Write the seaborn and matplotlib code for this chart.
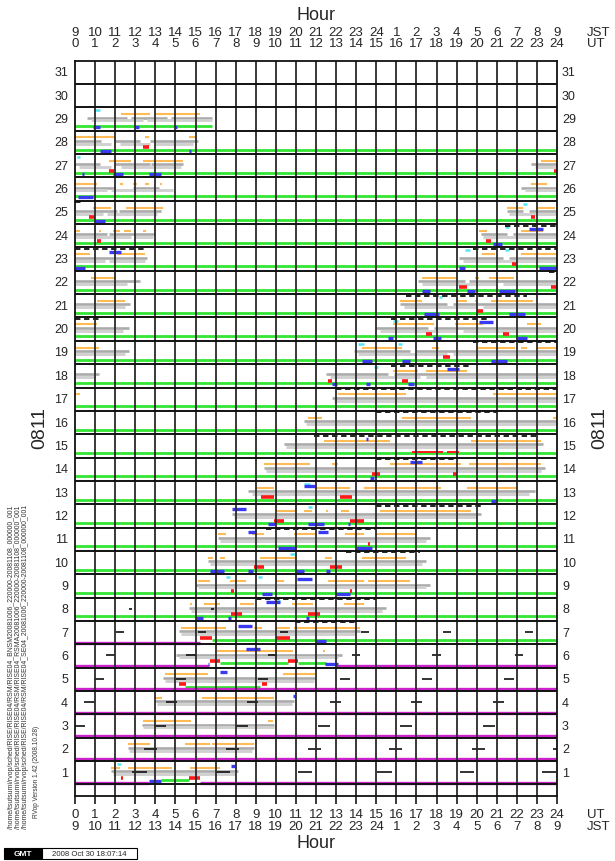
import matplotlib
matplotlib.use("Agg")
import matplotlib.pyplot as plt
from matplotlib.patches import Rectangle
import matplotlib.transforms as mtransforms
import pandas as pd
import seaborn as sns

sns.set_theme(style="white")
plt.rcParams["font.family"] = ["Liberation Sans", "DejaVu Sans"]

# ---------------------------------------------------------------- axes labels
DAYS = list(range(1, 32))
UT_HOURS = list(range(0, 25))
UT_LABELS = [str(h) for h in range(0, 25)]
JST_LABELS = ["9", "10", "11", "12", "13", "14", "15", "16", "17", "18", "19",
              "20", "21", "22", "23", "24", "1", "2", "3", "4", "5", "6", "7",
              "8", "9"]
MONTH_TAG = "0811"

# ---------------------------------------------------------------- schedule
# every entry: (day, start UT hour, end UT hour)
ORANGE = [
    (29, 2.3, 3.75), (29, 4.0, 6.2),
    (28, 0.0, 2.0), (28, 3.5, 3.7), (28, 5.7, 6.0),
    (27, 1.7, 2.8), (27, 3.4, 5.4), (27, 23.2, 24.0),
    (26, 0.0, 1.1), (26, 2.25, 2.4), (26, 2.9, 3.1), (26, 3.5, 3.7), (26, 4.25, 4.35), (26, 22.7, 23.5),
    (25, 0.9, 1.8), (25, 2.55, 4.4), (25, 21.5, 22.3), (25, 23.0, 23.9),
    (24, 0.0, 0.25), (24, 1.2, 1.3), (24, 1.9, 2.25), (24, 2.45, 2.8), (24, 3.4, 3.55),
    (24, 20.1, 20.5), (24, 22.2, 23.3),
    (23, 0.05, 0.75), (23, 2.1, 3.5), (23, 20.25, 20.9), (23, 22.2, 24.0),
    (22, 0.8, 2.0), (22, 17.3, 19.0), (22, 19.9, 20.1), (22, 20.6, 21.85),
    (21, 1.1, 2.5), (21, 16.2, 17.3), (21, 19.0, 19.5), (21, 19.9, 20.0), (21, 20.7, 22.8),
    (20, 0.0, 1.1), (20, 15.85, 17.9), (20, 18.9, 20.3), (20, 22.5, 23.2),
    (19, 0.0, 1.2), (19, 14.3, 16.3), (19, 17.8, 18.1), (19, 20.0, 21.9), (19, 22.2, 22.5), (19, 23.0, 24.0),
    (18, 15.85, 17.1), (18, 17.5, 19.5),
    (17, 0.0, 0.25), (17, 13.1, 16.5), (17, 20.8, 24.0),
    (16, 11.6, 12.3), (16, 16.3, 19.7), (16, 23.8, 24.0),
    (15, 12.4, 15.7), (15, 19.7, 23.2),
    (14, 9.4, 11.7), (14, 12.8, 13.1), (14, 15.7, 19.2), (14, 19.6, 23.2),
    (13, 9.0, 9.9), (13, 12.0, 13.7), (13, 14.4, 18.2), (13, 19.5, 22.0),
    (12, 10.0, 11.0), (12, 11.4, 11.8), (12, 12.5, 12.6), (12, 13.25, 13.65), (12, 15.2, 19.7),
    (11, 7.1, 7.5), (11, 8.8, 9.4), (11, 10.9, 12.0), (11, 13.45, 14.4), (11, 15.0, 17.0),
    (10, 6.6, 6.85), (10, 7.2, 7.45), (10, 9.2, 10.95), (10, 12.45, 12.8), (10, 14.3, 16.5),
    (9, 6.1, 6.7), (9, 7.7, 8.5), (9, 10.0, 10.4), (9, 12.6, 14.4), (9, 14.6, 16.7),
    (8, 5.75, 5.85), (8, 6.4, 7.2), (8, 8.2, 8.9), (8, 10.8, 11.85), (8, 13.4, 14.4),
    (7, 5.3, 7.5), (7, 8.9, 9.3), (7, 10.0, 10.7), (7, 10.9, 14.2),
    (6, 7.05, 10.85), (6, 12.35, 12.45),
    (5, 4.5, 6.6), (5, 10.35, 11.95),
    (4, 4.0, 4.35), (4, 6.3, 9.9),
    (3, 3.4, 5.8), (3, 9.6, 9.85),
    (2, 2.65, 3.75), (2, 5.5, 6.7), (2, 6.8, 8.9),
    (1, 1.8, 2.25), (1, 2.65, 4.85), (1, 5.75, 7.2),
]

GRAY_UPPER = [
    (29, 0.6, 2.6), (29, 2.8, 4.6), (29, 4.8, 6.8),
    (28, 0.0, 1.3), (28, 2.0, 3.25), (28, 3.75, 6.1),
    (27, 0.0, 1.25), (27, 2.0, 3.75), (27, 3.8, 5.4), (27, 22.7, 24.0),
    (26, 0.0, 2.0), (26, 2.9, 4.2), (26, 22.2, 24.0),
    (25, 0.0, 2.1), (25, 2.2, 4.3), (25, 21.5, 22.3), (25, 22.6, 24.0),
    (24, 0.0, 1.6), (24, 1.7, 4.0), (24, 20.2, 21.5), (24, 21.8, 24.0),
    (23, 0.0, 3.6), (23, 19.1, 21.3), (23, 21.6, 24.0),
    (22, 0.0, 3.25), (22, 17.1, 19.4), (22, 19.6, 24.0),
    (21, 0.0, 2.75), (21, 16.2, 18.5), (21, 18.8, 24.0),
    (20, 0.0, 2.7), (20, 15.0, 17.6), (20, 17.9, 24.0),
    (19, 0.0, 2.7), (19, 13.9, 16.7), (19, 17.0, 24.0),
    (18, 0.0, 1.2), (18, 12.5, 15.6), (18, 15.9, 24.0),
    (17, 12.8, 24.0),
    (16, 11.4, 24.0),
    (15, 10.4, 23.3),
    (14, 9.4, 23.4),
    (13, 8.6, 22.9),
    (12, 7.8, 20.2),
    (11, 7.1, 17.7),
    (10, 6.6, 17.5),
    (9, 6.0, 17.7),
    (8, 5.7, 15.5),
    (7, 5.2, 14.2),
    (6, 5.05, 13.3),
    (5, 4.4, 11.95),
    (4, 4.0, 10.9),
    (3, 3.35, 9.9),
    (2, 2.65, 8.9),
    (1, 1.8, 8.1),
]

GRAY_LOWER = [
    (29, 0.8, 3.4), (29, 3.6, 6.8),
    (28, 0.0, 1.8), (28, 2.25, 3.75), (28, 4.0, 5.9),
    (27, 0.2, 1.8), (27, 2.3, 5.3), (27, 22.9, 24.0),
    (26, 0.0, 1.6), (26, 1.8, 4.9), (26, 22.4, 24.0),
    (25, 0.0, 1.4), (25, 1.6, 4.1), (25, 21.6, 24.0),
    (24, 0.0, 2.8), (24, 3.0, 3.9), (24, 20.3, 24.0),
    (23, 0.0, 1.5), (23, 1.7, 3.5), (23, 19.3, 24.0),
    (22, 0.0, 2.6), (22, 17.3, 21.0), (22, 21.3, 24.0),
    (21, 0.0, 2.5), (21, 16.4, 20.0), (21, 20.3, 24.0),
    (20, 0.0, 2.4), (20, 15.2, 19.0), (20, 19.3, 24.0),
    (19, 0.0, 2.5), (19, 14.1, 18.5), (19, 18.8, 24.0),
    (18, 0.0, 1.0), (18, 12.7, 17.2), (18, 17.5, 24.0),
    (17, 12.9, 24.0),
    (16, 11.5, 24.0),
    (15, 10.5, 23.0),
    (14, 9.5, 23.2),
    (13, 8.8, 22.6),
    (12, 7.9, 20.0),
    (11, 7.2, 17.5),
    (10, 6.7, 17.3),
    (9, 6.1, 17.5),
    (8, 5.8, 15.3),
    (7, 5.3, 14.0),
    (6, 5.2, 13.1),
    (5, 4.5, 11.9),
    (4, 4.1, 10.8),
    (3, 3.4, 9.9),
    (2, 2.7, 8.8),
    (1, 1.9, 8.0),
]

BLUE_LOW = [
    (29, 0.9, 1.25), (29, 3.0, 3.2), (29, 5.0, 5.1),
    (28, 1.25, 1.8), (28, 5.7, 5.8),
    (27, 0.35, 0.45), (27, 1.9, 2.4), (27, 3.7, 4.3),
    (26, 0.15, 0.9),
    (25, 1.0, 1.5),
    (24, 20.8, 21.25),
    (23, 0.0, 0.5), (23, 19.1, 19.4), (23, 23.1, 24.0),
    (22, 17.3, 17.7), (22, 19.5, 19.9), (22, 21.1, 21.9),
    (21, 17.4, 18.1), (21, 21.6, 22.4),
    (20, 15.6, 15.85), (20, 17.85, 18.2), (20, 22.0, 22.5),
    (19, 14.3, 14.8), (19, 16.3, 16.7), (19, 20.7, 21.5),
    (18, 12.8, 13.05), (18, 14.5, 14.7), (18, 16.6, 16.9),
    (14, 14.7, 14.9),
    (13, 20.7, 21.0),
    (12, 9.6, 9.95), (12, 11.6, 12.4), (12, 13.6, 13.7),
    (11, 10.1, 11.0), (11, 14.0, 14.8),
    (10, 6.7, 7.4), (10, 8.6, 8.85), (10, 11.0, 11.4), (10, 12.5, 12.7),
    (9, 9.3, 9.8), (9, 13.0, 13.7),
    (8, 6.0, 6.35), (8, 7.6, 7.75), (8, 11.5, 11.65),
    (7, 12.0, 12.5),
    (6, 6.6, 6.65), (6, 12.45, 13.1),
    (1, 3.7, 4.3),
]

BLUE_HIGH = [
    (24, 22.6, 23.3), (23, 1.7, 2.3), (20, 20.1, 20.8), (18, 18.5, 19.1),
    (15, 14.5, 14.6), (14, 16.7, 17.3), (13, 11.4, 11.95), (12, 7.8, 8.5),
    (11, 8.6, 9.0), (11, 12.1, 12.6), (9, 11.05, 11.8), (8, 9.5, 10.2),
    (7, 8.1, 8.8), (6, 8.5, 9.2), (5, 7.2, 7.55), (4, 10.85, 10.95),
    (1, 7.75, 7.95),
]

RED = [
    (28, 3.4, 3.7), (27, 1.7, 1.95), (27, 23.85, 24.0),
    (25, 0.7, 1.0), (25, 22.7, 22.9), (24, 1.1, 1.3), (24, 20.45, 20.7),
    (23, 21.75, 22.0), (22, 19.1, 19.5), (22, 23.7, 24.0), (21, 20.0, 20.3),
    (20, 17.5, 17.8), (20, 21.3, 21.6), (19, 18.3, 18.65),
    (18, 12.6, 12.8), (18, 16.3, 16.6),
    (14, 14.8, 15.2), (14, 18.8, 19.0), (13, 9.25, 9.9), (13, 13.2, 13.8),
    (12, 9.9, 10.4), (12, 13.7, 14.4), (11, 14.6, 14.7),
    (10, 8.9, 9.4), (10, 12.7, 13.3), (9, 7.75, 7.9), (9, 13.7, 13.8),
    (8, 7.75, 8.3), (8, 11.6, 12.2), (7, 6.2, 6.8), (7, 10.0, 10.7),
    (6, 6.7, 7.2), (6, 10.6, 11.1), (5, 5.2, 5.55), (5, 9.3, 9.55),
    (1, 2.3, 2.4), (1, 5.7, 6.2),
]

# thin red strokes sitting on the baseline
RED_THIN = [(15, 16.8, 18.3), (15, 18.5, 19.1)]

CYAN = [
    (29, 1.0, 1.25), (27, 0.1, 0.25), (25, 22.3, 22.5), (24, 21.4, 21.6),
    (23, 19.4, 19.65), (23, 21.4, 21.6), (21, 18.1, 18.25), (20, 15.85, 16.1),
    (19, 14.1, 14.4), (19, 16.1, 16.3), (18, 14.9, 15.1), (13, 11.4, 11.7),
    (12, 11.6, 11.8), (10, 10.7, 10.95), (9, 7.5, 7.7), (9, 9.1, 9.3),
    (8, 10.0, 10.2), (1, 2.1, 2.3),
]

DASHED = [
    (25, 0.0, 0.4), (24, 21.4, 24.0), (23, 0.0, 3.55), (23, 19.8, 24.0),
    (22, 23.6, 24.0), (21, 16.5, 22.5), (20, 0.0, 1.2), (20, 15.75, 20.65),
    (19, 19.8, 24.0), (18, 15.75, 19.65), (17, 13.0, 24.0), (16, 15.0, 21.0),
    (15, 11.9, 23.0), (14, 15.0, 18.9), (12, 15.0, 20.2), (11, 9.5, 15.0),
    (10, 13.5, 17.2), (8, 9.0, 15.0), (7, 10.95, 14.0),
]

# short black marks in the lower rows
MARKS = [
    (1, 2.85, 3.6), (1, 7.0, 7.7), (1, 11.1, 11.8), (1, 15.05, 15.8), (1, 19.15, 19.85), (1, 23.25, 23.95),
    (2, 3.45, 4.1), (2, 7.5, 8.15), (2, 11.6, 12.25), (2, 15.65, 16.3), (2, 19.75, 20.4), (2, 23.8, 24.0),
    (3, 0.0, 0.5), (3, 3.95, 4.55), (3, 8.0, 8.6), (3, 12.1, 12.7), (3, 16.2, 16.8), (3, 20.3, 20.9),
    (4, 0.45, 1.0), (4, 4.55, 5.1), (4, 8.55, 9.1), (4, 12.7, 13.25), (4, 16.75, 17.3), (4, 20.8, 21.35),
    (5, 0.95, 1.45), (5, 5.05, 5.55), (5, 9.1, 9.6), (5, 13.2, 13.7), (5, 17.3, 17.8), (5, 21.35, 21.85),
    (6, 1.55, 2.0), (6, 5.55, 6.0), (6, 9.6, 10.05), (6, 13.8, 14.2), (6, 17.8, 18.2), (6, 21.9, 22.3),
    (7, 2.05, 2.45), (7, 6.1, 6.5), (7, 10.2, 10.6), (7, 14.25, 14.65), (7, 18.3, 18.7), (7, 22.4, 22.8),
    (8, 2.7, 2.85), (8, 6.75, 6.9),
]

GREEN = [
    (29, 0.0, 6.8),
    (28, 0.0, 24.0), (27, 0.0, 24.0), (26, 0.0, 24.0), (25, 0.0, 24.0), (24, 0.0, 24.0),
    (23, 0.0, 24.0), (22, 0.0, 24.0), (21, 0.0, 24.0), (20, 0.0, 24.0), (19, 0.0, 24.0),
    (18, 0.0, 24.0), (17, 0.0, 24.0), (16, 0.0, 24.0), (15, 0.0, 24.0), (14, 0.0, 24.0),
    (13, 0.0, 24.0), (12, 0.0, 24.0), (11, 0.0, 24.0), (10, 0.0, 24.0), (9, 0.0, 24.0),
    (8, 0.0, 24.0),
    (7, 6.8, 24.0),
    (6, 7.2, 10.6), (6, 11.1, 12.5),
    (5, 5.5, 9.2),
    (1, 4.3, 5.7),
]

MAGENTA = [
    (7, 0.0, 6.2),
    (6, 0.0, 6.65), (6, 13.0, 24.0),
    (5, 0.0, 24.0), (4, 0.0, 24.0), (3, 0.0, 24.0), (2, 0.0, 24.0),
    (1, 0.0, 3.7), (1, 6.2, 24.0),
]

SOURCE_FILES = [
    "/home/tsutsumi/rvop/sched/RISE/RISE04/RSM/RISE04_BNSM20081006_220000-20081108_000000_001",
    "/home/tsutsumi/rvop/sched/RISE/RISE04/RSM/RISE04_RSMA20081006_220000-20081108_000000_001",
    "/home/tsutsumi/rvop/sched/RISE/RISE04/RSM/RISE04_SE04_20081006_220000-20081108_000000_001",
]
VERSION_TEXT = "RVop Version 1.42 (2008.10.28)"
STAMP_TEXT = "2008 Oct 30 18:07:14"

# ---------------------------------------------------------------- drawing
W, H = 615, 862
fig = plt.figure(figsize=(W / 100, H / 100), dpi=100)
fig.patch.set_facecolor("white")
ax = fig.add_axes([75 / W, 65 / H, 482 / W, 735.3 / H])
ax.set_facecolor("white")


def draw_segments(segs, frac, color, lw, zorder, **kw):
    """Draw each (day, start, end) as a horizontal stroke inside the day's row."""
    rows = []
    for i, (d, s, e) in enumerate(segs):
        y = d + 0.5 - frac
        rows.append((i, s, y))
        rows.append((i, e, y))
    df = pd.DataFrame(rows, columns=["seg", "hour", "row"])
    sns.lineplot(data=df, x="hour", y="row", units="seg", estimator=None,
                 sort=False, color=color, lw=lw, ax=ax, legend=False,
                 zorder=zorder, solid_capstyle="butt", **kw)


draw_segments(GRAY_UPPER, 0.44, "#ababab", 1.9, 2)
draw_segments(GRAY_LOWER, 0.56, "#d0d0d0", 2.1, 2)
draw_segments(ORANGE, 0.29, "#ffbb55", 1.5, 3)
draw_segments(CYAN, 0.13, "#55e6f2", 1.8, 3)
draw_segments(DASHED, 0.06, "#111111", 1.3, 4, linestyle=(0, (3, 2)))
draw_segments(MARKS, 0.48, "#111111", 1.2, 5)
draw_segments(GREEN, 0.81, "#33e633", 2.0, 3)
draw_segments(MAGENTA, 0.93, "#cc22cc", 2.4, 3)
draw_segments(RED, 0.71, "#ff1a1a", 2.6, 4)
draw_segments(RED_THIN, 0.76, "#ff1a1a", 1.4, 4)
draw_segments(BLUE_HIGH, 0.2, "#3a3af0", 2.4, 4)
draw_segments(BLUE_LOW, 0.86, "#3a3af0", 2.4, 4)

# grid: hour columns and day rows
grid_col = "#2a2a2a"
ax.vlines(UT_HOURS[1:-1], 0, 31.5, color=grid_col, lw=1.3, zorder=6)
ax.hlines([d + 0.5 for d in range(0, 31)], 0, 24, color="#111111", lw=1.4, zorder=6)

ax.set_xlim(0, 24)
ax.set_ylim(0, 31.5)
ax.set_xlabel("")
ax.set_ylabel("")
for sp in ax.spines.values():
    sp.set_visible(True)
    sp.set_color("#111111")
    sp.set_linewidth(1.3)
    sp.set_zorder(7)
ax.set_xticks(UT_HOURS)
ax.set_yticks([])
ax.tick_params(axis="x", which="both", bottom=True, top=False, length=6,
               width=1.3, color=grid_col, direction="out", labelbottom=False)

# hour labels above and below
tr = mtransforms.blended_transform_factory(ax.transData, fig.transFigure)
for h, ut, jst in zip(UT_HOURS, UT_LABELS, JST_LABELS):
    ax.text(h, 1 - 33 / H, jst, transform=tr, ha="center", va="center", fontsize=9.5)
    ax.text(h, 1 - 44 / H, ut, transform=tr, ha="center", va="center", fontsize=9.5)
    ax.text(h, 1 - 815 / H, ut, transform=tr, ha="center", va="center", fontsize=9.5)
    ax.text(h, 1 - 827 / H, jst, transform=tr, ha="center", va="center", fontsize=9.5)

fig.text(587 / W, 1 - 33 / H, "JST", ha="left", va="center", fontsize=9.5)
fig.text(587 / W, 1 - 44 / H, "UT", ha="left", va="center", fontsize=9.5)
fig.text(587 / W, 1 - 815 / H, "UT", ha="left", va="center", fontsize=9.5)
fig.text(587 / W, 1 - 827 / H, "JST", ha="left", va="center", fontsize=9.5)
fig.text(316 / W, 1 - 15 / H, "Hour", ha="center", va="center", fontsize=13)
fig.text(316 / W, 1 - 844 / H, "Hour", ha="center", va="center", fontsize=13)

# day labels on both sides
for d in DAYS:
    ax.text(-0.35, d, str(d), ha="right", va="center", fontsize=9)
    ax.text(24.25, d, str(d), ha="left", va="center", fontsize=9)

fig.text(40 / W, 1 - 428 / H, MONTH_TAG, rotation=90, ha="center", va="center", fontsize=14)
fig.text(600 / W, 1 - 428 / H, MONTH_TAG, rotation=90, ha="center", va="center", fontsize=14)

# input file notes along the left edge
for x, txt in zip([12, 19, 26], SOURCE_FILES):
    fig.text(x / W, 1 - 829 / H, txt, rotation=90, ha="center", va="bottom",
             fontsize=4.95, color="#333333")
fig.text(36 / W, 1 - 818 / H, VERSION_TEXT, rotation=90, ha="center", va="bottom",
         fontsize=4.7, color="#333333")

# time stamp box
fig.patches.append(Rectangle((4 / W, 1 - 860 / H), 38 / W, 11 / H, transform=fig.transFigure,
                             facecolor="black", edgecolor="black", lw=0.8))
fig.text(23 / W, 1 - 854.5 / H, "GMT", ha="center", va="center", fontsize=6,
         color="white", fontweight="bold")
fig.patches.append(Rectangle((42 / W, 1 - 860 / H), 95 / W, 11 / H, transform=fig.transFigure,
                             facecolor="white", edgecolor="black", lw=0.8))
fig.text(89 / W, 1 - 854.5 / H, STAMP_TEXT, ha="center", va="center", fontsize=5.6)

fig.savefig("out.png", dpi=100, facecolor="white")
